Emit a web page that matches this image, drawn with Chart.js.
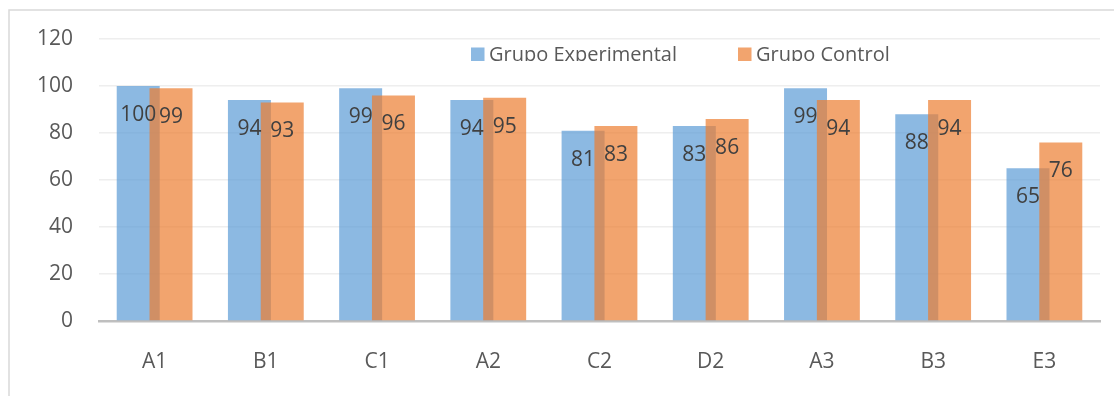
<!DOCTYPE html>
<html>
<head>
<meta charset="utf-8">
<script src="https://cdn.jsdelivr.net/npm/chart.js@4/dist/chart.umd.min.js"></script>
<style>
  html, body { margin: 0; padding: 0; background: #ffffff; }
  #wrap { width: 1114px; height: 396px; position: relative; }
  canvas { display: block; }
</style>
</head>
<body>
<div id="wrap"><canvas id="chart" width="1114" height="396"></canvas></div>
<script>
// Categories and the two series
const categories = ['A1', 'B1', 'C1', 'A2', 'C2', 'D2', 'A3', 'B3', 'E3'];
const experimental = [100, 94, 99, 94, 81, 83, 99, 88, 65];
const control = [99, 93, 96, 95, 83, 86, 94, 94, 76];
const seriesNames = ['Grupo Experimental', 'Grupo Control'];
const yMin = 0;
const yMax = 120;
const yStep = 20;

const FONT = '"Open Sans", "Noto Sans", sans-serif';
const BLUE = 'rgba(91, 155, 213, 0.7)';
const ORANGE = 'rgba(237, 125, 49, 0.7)';

// Thin frame around the chart
const framePlugin = {
  id: 'frame',
  beforeDraw(chart) {
    const ctx = chart.ctx;
    ctx.save();
    ctx.fillStyle = '#ffffff';
    ctx.fillRect(0, 0, chart.width, chart.height);
    ctx.strokeStyle = '#d9d9d9';
    ctx.lineWidth = 1.5;
    ctx.beginPath();
    ctx.moveTo(9, chart.height);
    ctx.lineTo(9, 10);
    ctx.lineTo(chart.width, 10);
    ctx.stroke();
    ctx.restore();
  }
};

// The second series is painted after the first so it sits on top where the bars overlap
const overlapOrder = {
  id: 'overlapOrder',
  beforeDatasetDraw(chart, args) {
    if (args.index === 1) return false;
  },
  afterDatasetsDraw(chart) {
    const meta = chart.getDatasetMeta(1);
    if (meta && !meta.hidden) meta.controller.draw();
  }
};

// Value printed inside each bar, just below its top
const valueLabels = {
  id: 'valueLabels',
  afterDatasetsDraw(chart) {
    const ctx = chart.ctx;
    ctx.save();
    ctx.font = '21px ' + FONT;
    ctx.fillStyle = '#404040';
    ctx.textAlign = 'center';
    ctx.textBaseline = 'alphabetic';
    chart.data.datasets.forEach((ds, i) => {
      const meta = chart.getDatasetMeta(i);
      meta.data.forEach((bar, j) => {
        ctx.fillText(String(ds.data[j]), bar.x, bar.y + 35);
      });
    });
    ctx.restore();
  }
};

// Legend drawn inside the plot area, near the top
const innerLegend = {
  id: 'innerLegend',
  afterDraw(chart) {
    const ctx = chart.ctx;
    const items = [
      { x: 471, color: chart.data.datasets[0].backgroundColor, text: chart.data.datasets[0].label },
      { x: 738, color: chart.data.datasets[1].backgroundColor, text: chart.data.datasets[1].label }
    ];
    const baseline = 61;
    ctx.save();
    ctx.beginPath();
    ctx.rect(0, 0, chart.width, baseline);
    ctx.clip();
    ctx.font = '20px ' + FONT;
    ctx.textAlign = 'left';
    ctx.textBaseline = 'alphabetic';
    items.forEach(it => {
      ctx.fillStyle = '#ffffff';
      ctx.fillRect(it.x, baseline - 13.5, 13.5, 13.5);
      ctx.fillStyle = it.color;
      ctx.fillRect(it.x, baseline - 13.5, 13.5, 13.5);
      ctx.fillStyle = '#595959';
      ctx.fillText(it.text, it.x + 18, baseline);
    });
    ctx.restore();
  }
};

new Chart(document.getElementById('chart'), {
  type: 'bar',
  data: {
    labels: categories,
    datasets: [
      {
        label: seriesNames[0],
        data: experimental,
        backgroundColor: BLUE,
        borderWidth: 0
      },
      {
        label: seriesNames[1],
        data: control,
        backgroundColor: ORANGE,
        borderWidth: 0
      }
    ]
  },
  options: {
    responsive: false,
    animation: false,
    devicePixelRatio: 1,
    layout: { padding: { left: 0, top: 39, right: 14, bottom: 0 } },
    datasets: {
      bar: { categoryPercentage: 0.59, barPercentage: 1.31 }
    },
    plugins: {
      legend: { display: false },
      tooltip: { enabled: false },
      title: { display: false }
    },
    scales: {
      x: {
        grid: { display: false, drawTicks: false },
        border: { display: true, color: '#bfbfbf', width: 2.5 },
        ticks: {
          color: '#595959',
          font: { family: FONT, size: 21 },
          padding: 28,
          maxRotation: 0
        },
        afterFit(scale) { scale.height = 75; }
      },
      y: {
        min: yMin,
        max: yMax,
        grid: { color: '#eeeeee', lineWidth: 1.5, drawTicks: false },
        border: { display: false },
        ticks: {
          stepSize: yStep,
          color: '#595959',
          font: { family: FONT, size: 21 },
          padding: 26
        },
        afterFit(scale) { scale.width = 99; }
      }
    }
  },
  plugins: [framePlugin, overlapOrder, valueLabels, innerLegend]
});
</script>
</body>
</html>
